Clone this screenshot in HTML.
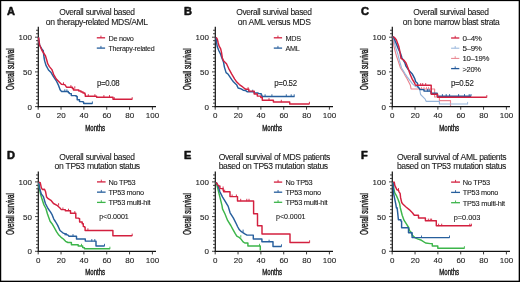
<!DOCTYPE html>
<html><head><meta charset="utf-8"><style>
html,body{margin:0;padding:0;background:#fff;}
svg{display:block;font-family:"Liberation Sans", sans-serif;will-change:transform;}
</style></head><body>
<svg width="520" height="282" viewBox="0 0 520 282">
<rect x="0" y="0" width="520" height="282" fill="#fff"/>
<g transform="translate(0 0)">
<text transform="translate(7.10 14.70)" font-size="11.0" font-weight="bold" fill="#111" stroke="#111" stroke-width="0.55" stroke-linejoin="round">A</text>
<text transform="translate(59.25 15.10) scale(0.8814 1)" font-size="9.6" letter-spacing="-0.45" word-spacing="0.55" fill="#1a1a1a" stroke="#1a1a1a" stroke-width="0.1" stroke-linejoin="round">Overall survival based</text>
<text transform="translate(45.85 24.70) scale(0.8960 1)" font-size="9.6" letter-spacing="-0.45" word-spacing="0.55" fill="#1a1a1a" stroke="#1a1a1a" stroke-width="0.1" stroke-linejoin="round">on therapy-related MDS/AML</text>
<line x1="38.3" y1="26.7" x2="38.3" y2="107.19999999999999" stroke="#111" stroke-width="1.2"/>
<path d="M35.00 106.60H38.3M36.00 103.13H38.3M36.00 99.66H38.3M36.00 96.19H38.3M36.00 92.72H38.3M36.00 89.25H38.3M36.00 85.78H38.3M36.00 82.31H38.3M36.00 78.84H38.3M36.00 75.37H38.3M35.00 71.90H38.3M36.00 68.43H38.3M36.00 64.96H38.3M36.00 61.49H38.3M36.00 58.02H38.3M36.00 54.55H38.3M36.00 51.08H38.3M36.00 47.61H38.3M36.00 44.14H38.3M36.00 40.67H38.3M35.00 37.20H38.3M36.00 33.73H38.3M36.00 30.26H38.3" stroke="#222" stroke-width="0.85" fill="none"/>
<line x1="37.699999999999996" y1="106.6" x2="156.00" y2="106.6" stroke="#111" stroke-width="1.2"/>
<path d="M38.20 106.6V109.70M61.04 106.6V109.70M83.88 106.6V109.70M106.72 106.6V109.70M129.56 106.6V109.70M152.40 106.6V109.70" stroke="#222" stroke-width="0.9" fill="none"/>
<text transform="translate(27.46 109.50)" font-size="8.0" fill="#1a1a1a" stroke="#1a1a1a" stroke-width="0.1" stroke-linejoin="round">0</text>
<text transform="translate(23.02 74.80)" font-size="8.0" fill="#1a1a1a" stroke="#1a1a1a" stroke-width="0.1" stroke-linejoin="round">50</text>
<text transform="translate(18.54 40.10)" font-size="8.0" fill="#1a1a1a" stroke="#1a1a1a" stroke-width="0.1" stroke-linejoin="round">100</text>
<text transform="translate(36.08 118.40)" font-size="8.0" fill="#1a1a1a" stroke="#1a1a1a" stroke-width="0.1" stroke-linejoin="round">0</text>
<text transform="translate(56.70 118.40)" font-size="8.0" fill="#1a1a1a" stroke="#1a1a1a" stroke-width="0.1" stroke-linejoin="round">20</text>
<text transform="translate(79.54 118.40)" font-size="8.0" fill="#1a1a1a" stroke="#1a1a1a" stroke-width="0.1" stroke-linejoin="round">40</text>
<text transform="translate(102.38 118.40)" font-size="8.0" fill="#1a1a1a" stroke="#1a1a1a" stroke-width="0.1" stroke-linejoin="round">60</text>
<text transform="translate(125.22 118.40)" font-size="8.0" fill="#1a1a1a" stroke="#1a1a1a" stroke-width="0.1" stroke-linejoin="round">80</text>
<text transform="translate(145.82 118.40)" font-size="8.0" fill="#1a1a1a" stroke="#1a1a1a" stroke-width="0.1" stroke-linejoin="round">100</text>
<text transform="translate(85.30 130.60) scale(0.6223 1)" font-size="9.7" fill="#1a1a1a" stroke="#1a1a1a" stroke-width="0.45" stroke-linejoin="round">Months</text>
<g transform="translate(13.55 69.2) rotate(-90)"><text transform="translate(-20.80 0.00) scale(0.6086 1)" font-size="10.0" fill="#1a1a1a" stroke="#1a1a1a" stroke-width="0.45" stroke-linejoin="round">Overall survival</text></g>
<path d="M38.50 37.30L39.60 45.00L42.30 49.80L43.20 50.60L44.10 58.00L44.70 61.10L46.00 65.40L48.50 70.00L51.10 72.60L53.60 76.90L56.30 80.80L58.40 85.10L60.10 89.70L61.40 91.40H68.30V92.60H69.30V93.60H71.30V95.60H76.20V96.40H77.20V99.80H79.50V101.60H83.20V102.30H83.70V103.50H92.40" stroke="#275f9d" stroke-width="1.45" fill="none" stroke-linejoin="round"/><path d="M64.80 91.70v-2.4M66.90 91.70v-2.4M92.40 103.80v-2.4" stroke="#275f9d" stroke-width="0.9" fill="none"/><path d="M38.50 37.30L39.60 45.00L42.00 50.50L45.50 56.00L46.80 60.30L47.70 63.70L49.40 66.60L51.90 69.60L53.60 74.30L56.30 79.10L58.00 80.80L61.40 84.20L64.80 84.60L66.50 87.20H72.40V88.40H73.50V90.00H78.80V91.00H81.00V92.00H83.00V93.00H84.80V94.00H85.30V96.30H96.60V97.20H113.00V99.30H132.20" stroke="#d3203f" stroke-width="1.45" fill="none" stroke-linejoin="round"/><path d="M63.50 84.70v-2.4M70.90 87.50v-2.4M74.80 88.70v-2.4M88.30 96.60v-2.4M94.90 96.60v-2.4M103.90 97.50v-2.4M109.50 97.50v-2.4M114.30 99.60v-2.4M132.20 99.60v-2.4" stroke="#d3203f" stroke-width="0.9" fill="none"/>
<path d="M96.8 37.80H105.1" stroke="#d3203f" stroke-width="1.3" fill="none"/><path d="M100.95 37.80v-2.2" stroke="#d3203f" stroke-width="0.9" fill="none"/>
<text transform="translate(108.40 40.70) scale(0.9107 1)" font-size="8.0" letter-spacing="-0.3" fill="#1a1a1a" stroke="#1a1a1a" stroke-width="0.1" stroke-linejoin="round">De novo</text>
<path d="M96.8 48.10H105.1" stroke="#275f9d" stroke-width="1.3" fill="none"/><path d="M100.95 48.10v-2.2" stroke="#275f9d" stroke-width="0.9" fill="none"/>
<text transform="translate(108.40 51.00) scale(0.8875 1)" font-size="8.0" letter-spacing="-0.3" fill="#1a1a1a" stroke="#1a1a1a" stroke-width="0.1" stroke-linejoin="round">Therapy-related</text>
<text transform="translate(96.90 85.70) scale(0.9201 1)" font-size="8.6" letter-spacing="-0.35" fill="#1a1a1a" stroke="#1a1a1a" stroke-width="0.1" stroke-linejoin="round">p=0.08</text>
</g>
<g transform="translate(177 0)">
<text transform="translate(7.10 14.70)" font-size="11.0" font-weight="bold" fill="#111" stroke="#111" stroke-width="0.55" stroke-linejoin="round">B</text>
<text transform="translate(59.25 15.10) scale(0.8814 1)" font-size="9.6" letter-spacing="-0.45" word-spacing="0.55" fill="#1a1a1a" stroke="#1a1a1a" stroke-width="0.1" stroke-linejoin="round">Overall survival based</text>
<text transform="translate(60.80 24.70) scale(0.8974 1)" font-size="9.6" letter-spacing="-0.45" word-spacing="0.55" fill="#1a1a1a" stroke="#1a1a1a" stroke-width="0.1" stroke-linejoin="round">on AML versus MDS</text>
<line x1="38.3" y1="26.7" x2="38.3" y2="107.19999999999999" stroke="#111" stroke-width="1.2"/>
<path d="M35.00 106.60H38.3M36.00 103.13H38.3M36.00 99.66H38.3M36.00 96.19H38.3M36.00 92.72H38.3M36.00 89.25H38.3M36.00 85.78H38.3M36.00 82.31H38.3M36.00 78.84H38.3M36.00 75.37H38.3M35.00 71.90H38.3M36.00 68.43H38.3M36.00 64.96H38.3M36.00 61.49H38.3M36.00 58.02H38.3M36.00 54.55H38.3M36.00 51.08H38.3M36.00 47.61H38.3M36.00 44.14H38.3M36.00 40.67H38.3M35.00 37.20H38.3M36.00 33.73H38.3M36.00 30.26H38.3" stroke="#222" stroke-width="0.85" fill="none"/>
<line x1="37.699999999999996" y1="106.6" x2="156.00" y2="106.6" stroke="#111" stroke-width="1.2"/>
<path d="M38.20 106.6V109.70M61.04 106.6V109.70M83.88 106.6V109.70M106.72 106.6V109.70M129.56 106.6V109.70M152.40 106.6V109.70" stroke="#222" stroke-width="0.9" fill="none"/>
<text transform="translate(27.46 109.50)" font-size="8.0" fill="#1a1a1a" stroke="#1a1a1a" stroke-width="0.1" stroke-linejoin="round">0</text>
<text transform="translate(23.02 74.80)" font-size="8.0" fill="#1a1a1a" stroke="#1a1a1a" stroke-width="0.1" stroke-linejoin="round">50</text>
<text transform="translate(18.54 40.10)" font-size="8.0" fill="#1a1a1a" stroke="#1a1a1a" stroke-width="0.1" stroke-linejoin="round">100</text>
<text transform="translate(36.08 118.40)" font-size="8.0" fill="#1a1a1a" stroke="#1a1a1a" stroke-width="0.1" stroke-linejoin="round">0</text>
<text transform="translate(56.70 118.40)" font-size="8.0" fill="#1a1a1a" stroke="#1a1a1a" stroke-width="0.1" stroke-linejoin="round">20</text>
<text transform="translate(79.54 118.40)" font-size="8.0" fill="#1a1a1a" stroke="#1a1a1a" stroke-width="0.1" stroke-linejoin="round">40</text>
<text transform="translate(102.38 118.40)" font-size="8.0" fill="#1a1a1a" stroke="#1a1a1a" stroke-width="0.1" stroke-linejoin="round">60</text>
<text transform="translate(125.22 118.40)" font-size="8.0" fill="#1a1a1a" stroke="#1a1a1a" stroke-width="0.1" stroke-linejoin="round">80</text>
<text transform="translate(145.82 118.40)" font-size="8.0" fill="#1a1a1a" stroke="#1a1a1a" stroke-width="0.1" stroke-linejoin="round">100</text>
<text transform="translate(85.30 130.60) scale(0.6223 1)" font-size="9.7" fill="#1a1a1a" stroke="#1a1a1a" stroke-width="0.45" stroke-linejoin="round">Months</text>
<g transform="translate(13.55 69.2) rotate(-90)"><text transform="translate(-20.80 0.00) scale(0.6086 1)" font-size="10.0" fill="#1a1a1a" stroke="#1a1a1a" stroke-width="0.45" stroke-linejoin="round">Overall survival</text></g>
<path d="M39.20 37.40L39.40 41.70L40.30 46.80L42.00 51.00L43.70 54.40L44.90 58.00L46.50 62.00L47.40 67.10L49.10 72.60L51.20 74.30L54.60 79.40L56.40 81.70L59.80 85.10L61.10 88.00L64.10 88.90L66.20 90.20L68.70 90.60L70.40 91.80H77.20V92.90H81.10V93.60H84.20V95.00H84.90V96.40H117.50" stroke="#275f9d" stroke-width="1.45" fill="none" stroke-linejoin="round"/><path d="M75.70 92.10v-2.4M88.10 96.70v-2.4M94.90 96.70v-2.4M109.30 96.70v-2.4M114.20 96.70v-2.4M117.20 96.70v-2.4" stroke="#275f9d" stroke-width="0.9" fill="none"/><path d="M39.20 37.40L40.30 39.10L41.10 42.50L42.00 45.90L43.70 48.90L44.50 52.30L45.30 57.70L46.50 60.70L49.50 63.70L51.60 68.30L54.60 73.90L57.70 79.10L59.80 82.10L62.40 84.60L64.90 86.30L67.50 88.50L69.00 89.30H71.80V91.10H77.20V93.90H80.30V96.10H83.80V97.50H85.30V100.20H96.40V101.90H112.70V103.90H132.40" stroke="#d3203f" stroke-width="1.45" fill="none" stroke-linejoin="round"/><path d="M71.10 89.60v-2.4M92.00 100.50v-2.4M104.30 102.20v-2.4M132.40 104.20v-2.4" stroke="#d3203f" stroke-width="0.9" fill="none"/>
<path d="M96.8 37.80H105.1" stroke="#d3203f" stroke-width="1.3" fill="none"/><path d="M100.95 37.80v-2.2" stroke="#d3203f" stroke-width="0.9" fill="none"/>
<text transform="translate(108.40 40.70) scale(0.9091 1)" font-size="8.0" letter-spacing="-0.3" fill="#1a1a1a" stroke="#1a1a1a" stroke-width="0.1" stroke-linejoin="round">MDS</text>
<path d="M96.8 48.10H105.1" stroke="#275f9d" stroke-width="1.3" fill="none"/><path d="M100.95 48.10v-2.2" stroke="#275f9d" stroke-width="0.9" fill="none"/>
<text transform="translate(108.40 51.00) scale(0.9028 1)" font-size="8.0" letter-spacing="-0.3" fill="#1a1a1a" stroke="#1a1a1a" stroke-width="0.1" stroke-linejoin="round">AML</text>
<text transform="translate(97.30 85.70) scale(0.9201 1)" font-size="8.6" letter-spacing="-0.35" fill="#1a1a1a" stroke="#1a1a1a" stroke-width="0.1" stroke-linejoin="round">p=0.52</text>
</g>
<g transform="translate(354 0)">
<text transform="translate(7.10 14.70)" font-size="11.0" font-weight="bold" fill="#111" stroke="#111" stroke-width="0.55" stroke-linejoin="round">C</text>
<text transform="translate(59.25 15.10) scale(0.8814 1)" font-size="9.6" letter-spacing="-0.45" word-spacing="0.55" fill="#1a1a1a" stroke="#1a1a1a" stroke-width="0.1" stroke-linejoin="round">Overall survival based</text>
<text transform="translate(48.85 24.70) scale(0.8864 1)" font-size="9.6" letter-spacing="-0.45" word-spacing="0.55" fill="#1a1a1a" stroke="#1a1a1a" stroke-width="0.1" stroke-linejoin="round">on bone marrow blast strata</text>
<line x1="38.3" y1="26.7" x2="38.3" y2="107.19999999999999" stroke="#111" stroke-width="1.2"/>
<path d="M35.00 106.60H38.3M36.00 103.13H38.3M36.00 99.66H38.3M36.00 96.19H38.3M36.00 92.72H38.3M36.00 89.25H38.3M36.00 85.78H38.3M36.00 82.31H38.3M36.00 78.84H38.3M36.00 75.37H38.3M35.00 71.90H38.3M36.00 68.43H38.3M36.00 64.96H38.3M36.00 61.49H38.3M36.00 58.02H38.3M36.00 54.55H38.3M36.00 51.08H38.3M36.00 47.61H38.3M36.00 44.14H38.3M36.00 40.67H38.3M35.00 37.20H38.3M36.00 33.73H38.3M36.00 30.26H38.3" stroke="#222" stroke-width="0.85" fill="none"/>
<line x1="37.699999999999996" y1="106.6" x2="156.00" y2="106.6" stroke="#111" stroke-width="1.2"/>
<path d="M38.20 106.6V109.70M61.04 106.6V109.70M83.88 106.6V109.70M106.72 106.6V109.70M129.56 106.6V109.70M152.40 106.6V109.70" stroke="#222" stroke-width="0.9" fill="none"/>
<text transform="translate(27.46 109.50)" font-size="8.0" fill="#1a1a1a" stroke="#1a1a1a" stroke-width="0.1" stroke-linejoin="round">0</text>
<text transform="translate(23.02 74.80)" font-size="8.0" fill="#1a1a1a" stroke="#1a1a1a" stroke-width="0.1" stroke-linejoin="round">50</text>
<text transform="translate(18.54 40.10)" font-size="8.0" fill="#1a1a1a" stroke="#1a1a1a" stroke-width="0.1" stroke-linejoin="round">100</text>
<text transform="translate(36.08 118.40)" font-size="8.0" fill="#1a1a1a" stroke="#1a1a1a" stroke-width="0.1" stroke-linejoin="round">0</text>
<text transform="translate(56.70 118.40)" font-size="8.0" fill="#1a1a1a" stroke="#1a1a1a" stroke-width="0.1" stroke-linejoin="round">20</text>
<text transform="translate(79.54 118.40)" font-size="8.0" fill="#1a1a1a" stroke="#1a1a1a" stroke-width="0.1" stroke-linejoin="round">40</text>
<text transform="translate(102.38 118.40)" font-size="8.0" fill="#1a1a1a" stroke="#1a1a1a" stroke-width="0.1" stroke-linejoin="round">60</text>
<text transform="translate(125.22 118.40)" font-size="8.0" fill="#1a1a1a" stroke="#1a1a1a" stroke-width="0.1" stroke-linejoin="round">80</text>
<text transform="translate(145.82 118.40)" font-size="8.0" fill="#1a1a1a" stroke="#1a1a1a" stroke-width="0.1" stroke-linejoin="round">100</text>
<text transform="translate(85.30 130.60) scale(0.6223 1)" font-size="9.7" fill="#1a1a1a" stroke="#1a1a1a" stroke-width="0.45" stroke-linejoin="round">Months</text>
<g transform="translate(13.55 69.2) rotate(-90)"><text transform="translate(-20.80 0.00) scale(0.6086 1)" font-size="10.0" fill="#1a1a1a" stroke="#1a1a1a" stroke-width="0.45" stroke-linejoin="round">Overall survival</text></g>
<path d="M39.20 36.50L39.80 45.90L41.10 51.00L42.40 55.70L44.40 61.60L46.50 68.00L49.70 72.70L51.40 76.00L52.80 78.30L55.00 82.50L56.40 85.30L57.10 89.00H80.60V97.00H85.40V100.60H96.50V106.00" stroke="#e9848f" stroke-width="1.15" fill="none" stroke-linejoin="round"/><path d="M67.50 89.30v-2.4M70.00 89.30v-2.4M72.50 89.30v-2.4M74.50 89.30v-2.4" stroke="#e9848f" stroke-width="0.9" fill="none"/><path d="M39.20 36.50L40.30 42.50L42.00 48.50L43.70 53.60L45.40 60.50L47.60 68.00L51.00 73.60L53.20 76.80L56.40 81.10L58.50 83.90L61.30 86.40L64.20 87.10L65.60 88.90L66.60 94.50L68.70 96.60L71.20 99.10L72.10 101.30H85.40V104.00H113.60" stroke="#97b6db" stroke-width="1.15" fill="none" stroke-linejoin="round"/><path d="M113.60 104.30v-2.4" stroke="#97b6db" stroke-width="0.9" fill="none"/><path d="M39.20 36.50L41.10 40.80L42.80 45.10L44.50 49.30L46.60 53.60L47.90 57.80L50.80 62.60L51.80 65.80L55.00 70.60L58.50 74.30L60.60 78.30L61.70 81.80L63.50 83.20L63.80 86.80L65.20 88.20L66.00 89.60H70.00V91.10H77.00V93.20H83.20V96.20H117.00" stroke="#21589a" stroke-width="1.45" fill="none" stroke-linejoin="round"/><path d="M73.40 91.40v-2.4M75.10 91.40v-2.4M88.40 96.50v-2.4M92.20 96.50v-2.4M95.60 96.50v-2.4M104.60 96.50v-2.4M110.50 96.50v-2.4M115.20 96.50v-2.4M117.00 96.50v-2.4" stroke="#21589a" stroke-width="0.9" fill="none"/><path d="M39.20 36.50L40.70 37.80L42.40 40.00L43.70 43.40L44.90 46.80L45.80 51.00L46.40 55.00L47.00 58.40L49.70 60.00L51.80 62.60L54.00 68.00L56.00 74.00L58.50 79.70L60.00 82.00L61.30 84.60L61.80 85.20H77.20V94.30H83.60V97.20H132.80" stroke="#d3203f" stroke-width="1.45" fill="none" stroke-linejoin="round"/><path d="M66.70 85.50v-2.4M68.70 85.50v-2.4M71.70 85.50v-2.4M132.80 97.50v-2.4" stroke="#d3203f" stroke-width="0.9" fill="none"/>
<path d="M97.1 38.00H105.3" stroke="#d3203f" stroke-width="1.3" fill="none"/><path d="M101.20 38.00v-2.2" stroke="#d3203f" stroke-width="0.9" fill="none"/>
<text transform="translate(108.40 40.90) scale(1.0010 1)" font-size="8.0" letter-spacing="-0.3" fill="#1a1a1a" stroke="#1a1a1a" stroke-width="0.1" stroke-linejoin="round">0–4%</text>
<path d="M97.1 48.20H105.3" stroke="#97b6db" stroke-width="1.05" fill="none"/><path d="M101.20 48.20v-2.2" stroke="#97b6db" stroke-width="0.9" fill="none"/>
<text transform="translate(108.40 51.10) scale(1.0010 1)" font-size="8.0" letter-spacing="-0.3" fill="#1a1a1a" stroke="#1a1a1a" stroke-width="0.1" stroke-linejoin="round">5–9%</text>
<path d="M97.1 58.40H105.3" stroke="#e9848f" stroke-width="1.05" fill="none"/><path d="M101.20 58.40v-2.2" stroke="#e9848f" stroke-width="0.9" fill="none"/>
<text transform="translate(108.40 61.30) scale(0.9763 1)" font-size="8.0" letter-spacing="-0.3" fill="#1a1a1a" stroke="#1a1a1a" stroke-width="0.1" stroke-linejoin="round">10–19%</text>
<path d="M97.1 68.60H105.3" stroke="#21589a" stroke-width="1.3" fill="none"/><path d="M101.20 68.60v-2.2" stroke="#21589a" stroke-width="0.9" fill="none"/>
<text transform="translate(108.40 71.50) scale(0.9403 1)" font-size="8.0" letter-spacing="-0.3" fill="#1a1a1a" stroke="#1a1a1a" stroke-width="0.1" stroke-linejoin="round">&gt;20%</text>
<text transform="translate(97.00 85.70) scale(0.9201 1)" font-size="8.6" letter-spacing="-0.35" fill="#1a1a1a" stroke="#1a1a1a" stroke-width="0.1" stroke-linejoin="round">p=0.52</text>
</g>
<g transform="translate(0 144.7)">
<text transform="translate(7.10 14.70)" font-size="11.0" font-weight="bold" fill="#111" stroke="#111" stroke-width="0.55" stroke-linejoin="round">D</text>
<text transform="translate(59.25 15.10) scale(0.8814 1)" font-size="9.6" letter-spacing="-0.45" word-spacing="0.55" fill="#1a1a1a" stroke="#1a1a1a" stroke-width="0.1" stroke-linejoin="round">Overall survival based</text>
<text transform="translate(54.50 24.70) scale(0.8952 1)" font-size="9.6" letter-spacing="-0.45" word-spacing="0.55" fill="#1a1a1a" stroke="#1a1a1a" stroke-width="0.1" stroke-linejoin="round">on TP53 mutation status</text>
<line x1="38.3" y1="26.7" x2="38.3" y2="107.19999999999999" stroke="#111" stroke-width="1.2"/>
<path d="M35.00 106.60H38.3M36.00 103.13H38.3M36.00 99.66H38.3M36.00 96.19H38.3M36.00 92.72H38.3M36.00 89.25H38.3M36.00 85.78H38.3M36.00 82.31H38.3M36.00 78.84H38.3M36.00 75.37H38.3M35.00 71.90H38.3M36.00 68.43H38.3M36.00 64.96H38.3M36.00 61.49H38.3M36.00 58.02H38.3M36.00 54.55H38.3M36.00 51.08H38.3M36.00 47.61H38.3M36.00 44.14H38.3M36.00 40.67H38.3M35.00 37.20H38.3M36.00 33.73H38.3M36.00 30.26H38.3" stroke="#222" stroke-width="0.85" fill="none"/>
<line x1="37.699999999999996" y1="106.6" x2="156.00" y2="106.6" stroke="#111" stroke-width="1.2"/>
<path d="M38.20 106.6V109.70M61.04 106.6V109.70M83.88 106.6V109.70M106.72 106.6V109.70M129.56 106.6V109.70M152.40 106.6V109.70" stroke="#222" stroke-width="0.9" fill="none"/>
<text transform="translate(27.46 109.50)" font-size="8.0" fill="#1a1a1a" stroke="#1a1a1a" stroke-width="0.1" stroke-linejoin="round">0</text>
<text transform="translate(23.02 74.80)" font-size="8.0" fill="#1a1a1a" stroke="#1a1a1a" stroke-width="0.1" stroke-linejoin="round">50</text>
<text transform="translate(18.54 40.10)" font-size="8.0" fill="#1a1a1a" stroke="#1a1a1a" stroke-width="0.1" stroke-linejoin="round">100</text>
<text transform="translate(36.08 118.40)" font-size="8.0" fill="#1a1a1a" stroke="#1a1a1a" stroke-width="0.1" stroke-linejoin="round">0</text>
<text transform="translate(56.70 118.40)" font-size="8.0" fill="#1a1a1a" stroke="#1a1a1a" stroke-width="0.1" stroke-linejoin="round">20</text>
<text transform="translate(79.54 118.40)" font-size="8.0" fill="#1a1a1a" stroke="#1a1a1a" stroke-width="0.1" stroke-linejoin="round">40</text>
<text transform="translate(102.38 118.40)" font-size="8.0" fill="#1a1a1a" stroke="#1a1a1a" stroke-width="0.1" stroke-linejoin="round">60</text>
<text transform="translate(125.22 118.40)" font-size="8.0" fill="#1a1a1a" stroke="#1a1a1a" stroke-width="0.1" stroke-linejoin="round">80</text>
<text transform="translate(145.82 118.40)" font-size="8.0" fill="#1a1a1a" stroke="#1a1a1a" stroke-width="0.1" stroke-linejoin="round">100</text>
<text transform="translate(85.30 130.60) scale(0.6223 1)" font-size="9.7" fill="#1a1a1a" stroke="#1a1a1a" stroke-width="0.45" stroke-linejoin="round">Months</text>
<g transform="translate(13.55 69.2) rotate(-90)"><text transform="translate(-20.80 0.00) scale(0.6086 1)" font-size="10.0" fill="#1a1a1a" stroke="#1a1a1a" stroke-width="0.45" stroke-linejoin="round">Overall survival</text></g>
<path d="M38.70 37.60L39.20 42.90L40.80 50.30L42.40 55.60L43.70 59.60L45.90 63.80L47.40 69.10L50.10 76.60L52.00 79.00L54.30 83.00L56.50 87.00L58.80 90.40L61.10 92.60L63.40 94.30L65.60 96.60L67.90 97.80H71.40V100.00H78.20V101.20H82.70V102.90H84.40V104.10H109.90" stroke="#3cb54a" stroke-width="1.45" fill="none" stroke-linejoin="round"/><path d="M81.50 101.50v-2.4M109.90 104.40v-2.4" stroke="#3cb54a" stroke-width="0.9" fill="none"/><path d="M38.70 37.60L39.70 43.90L41.30 49.30L43.40 51.90L45.40 58.80L48.00 63.80L50.60 67.50L52.20 70.20L53.80 74.40L55.40 76.80L57.70 80.70L60.00 85.80L62.80 88.10L67.90 90.40L69.00 91.50H76.50V94.30H85.30V96.40H96.00V101.20H104.50" stroke="#275f9d" stroke-width="1.45" fill="none" stroke-linejoin="round"/><path d="M65.10 90.70v-2.4M66.20 90.70v-2.4M73.00 91.80v-2.4M91.80 96.70v-2.4M94.80 96.70v-2.4M104.50 101.50v-2.4" stroke="#275f9d" stroke-width="0.9" fill="none"/><path d="M38.70 37.60L40.30 38.10L41.30 42.90L42.40 44.80L44.50 44.60L45.60 47.10L46.60 52.40L48.20 54.00L50.90 55.60L53.50 58.80L57.00 60.60L60.20 63.60L61.30 64.90H65.30V66.10H70.50V68.50H75.80V73.40H78.80V73.90H79.60V77.30H82.20V79.10H83.30V81.90H84.70V82.50H85.10V85.70H112.90V91.00H132.20" stroke="#d3203f" stroke-width="1.45" fill="none" stroke-linejoin="round"/><path d="M58.60 60.90v-2.4M62.90 65.20v-2.4M68.50 66.40v-2.4M74.80 68.80v-2.4M87.90 86.00v-2.4M132.20 91.30v-2.4" stroke="#d3203f" stroke-width="0.9" fill="none"/>
<path d="M97.0 37.20H105.6" stroke="#d3203f" stroke-width="1.3" fill="none"/><path d="M101.30 37.20v-2.2" stroke="#d3203f" stroke-width="0.9" fill="none"/>
<text transform="translate(108.40 40.10) scale(0.9244 1)" font-size="8.0" letter-spacing="-0.3" fill="#1a1a1a" stroke="#1a1a1a" stroke-width="0.1" stroke-linejoin="round">No TP53</text>
<path d="M97.0 47.45H105.6" stroke="#275f9d" stroke-width="1.3" fill="none"/><path d="M101.30 47.45v-2.2" stroke="#275f9d" stroke-width="0.9" fill="none"/>
<text transform="translate(108.40 50.35) scale(0.9163 1)" font-size="8.0" letter-spacing="-0.3" fill="#1a1a1a" stroke="#1a1a1a" stroke-width="0.1" stroke-linejoin="round">TP53 mono</text>
<path d="M97.0 57.70H105.6" stroke="#3cb54a" stroke-width="1.3" fill="none"/><path d="M101.30 57.70v-2.2" stroke="#3cb54a" stroke-width="0.9" fill="none"/>
<text transform="translate(108.40 60.60) scale(0.9305 1)" font-size="8.0" letter-spacing="-0.3" fill="#1a1a1a" stroke="#1a1a1a" stroke-width="0.1" stroke-linejoin="round">TP53 multi-hit</text>
<text transform="translate(99.20 74.60) scale(0.9253 1)" font-size="7.7" letter-spacing="-0.05" fill="#1a1a1a" stroke="#1a1a1a" stroke-width="0.1" stroke-linejoin="round">p&lt;0.0001</text>
</g>
<g transform="translate(177 144.7)">
<text transform="translate(7.10 14.70)" font-size="11.0" font-weight="bold" fill="#111" stroke="#111" stroke-width="0.55" stroke-linejoin="round">E</text>
<text transform="translate(41.70 15.10) scale(0.8934 1)" font-size="9.6" letter-spacing="-0.45" word-spacing="0.55" fill="#1a1a1a" stroke="#1a1a1a" stroke-width="0.1" stroke-linejoin="round">Overall survival of MDS patients</text>
<text transform="translate(41.70 24.70) scale(0.8936 1)" font-size="9.6" letter-spacing="-0.45" word-spacing="0.55" fill="#1a1a1a" stroke="#1a1a1a" stroke-width="0.1" stroke-linejoin="round">based on TP53 mutation status</text>
<line x1="38.3" y1="26.7" x2="38.3" y2="107.19999999999999" stroke="#111" stroke-width="1.2"/>
<path d="M35.00 106.60H38.3M36.00 103.13H38.3M36.00 99.66H38.3M36.00 96.19H38.3M36.00 92.72H38.3M36.00 89.25H38.3M36.00 85.78H38.3M36.00 82.31H38.3M36.00 78.84H38.3M36.00 75.37H38.3M35.00 71.90H38.3M36.00 68.43H38.3M36.00 64.96H38.3M36.00 61.49H38.3M36.00 58.02H38.3M36.00 54.55H38.3M36.00 51.08H38.3M36.00 47.61H38.3M36.00 44.14H38.3M36.00 40.67H38.3M35.00 37.20H38.3M36.00 33.73H38.3M36.00 30.26H38.3" stroke="#222" stroke-width="0.85" fill="none"/>
<line x1="37.699999999999996" y1="106.6" x2="156.00" y2="106.6" stroke="#111" stroke-width="1.2"/>
<path d="M38.20 106.6V109.70M61.04 106.6V109.70M83.88 106.6V109.70M106.72 106.6V109.70M129.56 106.6V109.70M152.40 106.6V109.70" stroke="#222" stroke-width="0.9" fill="none"/>
<text transform="translate(27.46 109.50)" font-size="8.0" fill="#1a1a1a" stroke="#1a1a1a" stroke-width="0.1" stroke-linejoin="round">0</text>
<text transform="translate(23.02 74.80)" font-size="8.0" fill="#1a1a1a" stroke="#1a1a1a" stroke-width="0.1" stroke-linejoin="round">50</text>
<text transform="translate(18.54 40.10)" font-size="8.0" fill="#1a1a1a" stroke="#1a1a1a" stroke-width="0.1" stroke-linejoin="round">100</text>
<text transform="translate(36.08 118.40)" font-size="8.0" fill="#1a1a1a" stroke="#1a1a1a" stroke-width="0.1" stroke-linejoin="round">0</text>
<text transform="translate(56.70 118.40)" font-size="8.0" fill="#1a1a1a" stroke="#1a1a1a" stroke-width="0.1" stroke-linejoin="round">20</text>
<text transform="translate(79.54 118.40)" font-size="8.0" fill="#1a1a1a" stroke="#1a1a1a" stroke-width="0.1" stroke-linejoin="round">40</text>
<text transform="translate(102.38 118.40)" font-size="8.0" fill="#1a1a1a" stroke="#1a1a1a" stroke-width="0.1" stroke-linejoin="round">60</text>
<text transform="translate(125.22 118.40)" font-size="8.0" fill="#1a1a1a" stroke="#1a1a1a" stroke-width="0.1" stroke-linejoin="round">80</text>
<text transform="translate(145.82 118.40)" font-size="8.0" fill="#1a1a1a" stroke="#1a1a1a" stroke-width="0.1" stroke-linejoin="round">100</text>
<text transform="translate(85.30 130.60) scale(0.6223 1)" font-size="9.7" fill="#1a1a1a" stroke="#1a1a1a" stroke-width="0.45" stroke-linejoin="round">Months</text>
<g transform="translate(13.55 69.2) rotate(-90)"><text transform="translate(-20.80 0.00) scale(0.6086 1)" font-size="10.0" fill="#1a1a1a" stroke="#1a1a1a" stroke-width="0.45" stroke-linejoin="round">Overall survival</text></g>
<path d="M39.20 37.60L40.80 43.90L42.90 52.40L45.00 61.00L45.50 64.20L48.00 69.30L50.60 75.70L53.80 80.80L55.30 83.60L58.10 88.70L59.80 91.50L62.10 92.60L64.40 94.90L66.10 97.20L67.80 98.30H70.90V101.20H83.30V105.90" stroke="#3cb54a" stroke-width="1.45" fill="none" stroke-linejoin="round"/><path d="M63.80 92.90v-2.4M82.50 101.50v-2.4" stroke="#3cb54a" stroke-width="0.9" fill="none"/><path d="M39.20 37.60L41.30 41.80L42.90 47.10L45.60 52.40L48.20 56.70L51.20 61.70L53.10 68.10L56.30 73.20L59.50 79.60L60.50 81.80L62.40 85.10L64.40 87.00L67.80 89.20L70.00 90.40H76.30V94.30H84.90V97.10H96.00V101.70H104.50" stroke="#275f9d" stroke-width="1.45" fill="none" stroke-linejoin="round"/><path d="M66.10 87.30v-2.4M92.10 97.40v-2.4M104.50 102.00v-2.4" stroke="#275f9d" stroke-width="0.9" fill="none"/><path d="M39.20 37.60L40.80 40.20L41.90 41.30H42.90V43.90H46.10V45.50H46.60V47.10H53.00V51.90H60.50V56.20H76.60V69.00H80.50V81.10H85.00V89.30H113.00V97.70H132.60" stroke="#d3203f" stroke-width="1.45" fill="none" stroke-linejoin="round"/><path d="M46.10 44.20v-2.4M47.70 47.40v-2.4M55.10 52.20v-2.4M59.40 52.20v-2.4M63.70 56.50v-2.4M69.80 56.50v-2.4M72.00 56.50v-2.4M132.60 98.00v-2.4" stroke="#d3203f" stroke-width="0.9" fill="none"/>
<path d="M96.9 37.40H105.2" stroke="#d3203f" stroke-width="1.3" fill="none"/><path d="M101.05 37.40v-2.2" stroke="#d3203f" stroke-width="0.9" fill="none"/>
<text transform="translate(108.40 40.30) scale(0.9244 1)" font-size="8.0" letter-spacing="-0.3" fill="#1a1a1a" stroke="#1a1a1a" stroke-width="0.1" stroke-linejoin="round">No TP53</text>
<path d="M96.9 47.50H105.2" stroke="#275f9d" stroke-width="1.3" fill="none"/><path d="M101.05 47.50v-2.2" stroke="#275f9d" stroke-width="0.9" fill="none"/>
<text transform="translate(108.40 50.40) scale(0.9163 1)" font-size="8.0" letter-spacing="-0.3" fill="#1a1a1a" stroke="#1a1a1a" stroke-width="0.1" stroke-linejoin="round">TP53 mono</text>
<path d="M96.9 57.60H105.2" stroke="#3cb54a" stroke-width="1.3" fill="none"/><path d="M101.05 57.60v-2.2" stroke="#3cb54a" stroke-width="0.9" fill="none"/>
<text transform="translate(108.40 60.50) scale(0.9305 1)" font-size="8.0" letter-spacing="-0.3" fill="#1a1a1a" stroke="#1a1a1a" stroke-width="0.1" stroke-linejoin="round">TP53 multi-hit</text>
<text transform="translate(99.00 74.20) scale(0.9253 1)" font-size="7.7" letter-spacing="-0.05" fill="#1a1a1a" stroke="#1a1a1a" stroke-width="0.1" stroke-linejoin="round">p&lt;0.0001</text>
</g>
<g transform="translate(354 144.7)">
<text transform="translate(7.10 14.70)" font-size="11.0" font-weight="bold" fill="#111" stroke="#111" stroke-width="0.55" stroke-linejoin="round">F</text>
<text transform="translate(42.90 15.10) scale(0.8973 1)" font-size="9.6" letter-spacing="-0.45" word-spacing="0.55" fill="#1a1a1a" stroke="#1a1a1a" stroke-width="0.1" stroke-linejoin="round">Overall survival of AML patients</text>
<text transform="translate(42.90 24.70) scale(0.8944 1)" font-size="9.6" letter-spacing="-0.45" word-spacing="0.55" fill="#1a1a1a" stroke="#1a1a1a" stroke-width="0.1" stroke-linejoin="round">based on TP53 mutation status</text>
<line x1="38.3" y1="26.7" x2="38.3" y2="107.19999999999999" stroke="#111" stroke-width="1.2"/>
<path d="M35.00 106.60H38.3M36.00 103.13H38.3M36.00 99.66H38.3M36.00 96.19H38.3M36.00 92.72H38.3M36.00 89.25H38.3M36.00 85.78H38.3M36.00 82.31H38.3M36.00 78.84H38.3M36.00 75.37H38.3M35.00 71.90H38.3M36.00 68.43H38.3M36.00 64.96H38.3M36.00 61.49H38.3M36.00 58.02H38.3M36.00 54.55H38.3M36.00 51.08H38.3M36.00 47.61H38.3M36.00 44.14H38.3M36.00 40.67H38.3M35.00 37.20H38.3M36.00 33.73H38.3M36.00 30.26H38.3" stroke="#222" stroke-width="0.85" fill="none"/>
<line x1="37.699999999999996" y1="106.6" x2="156.00" y2="106.6" stroke="#111" stroke-width="1.2"/>
<path d="M38.20 106.6V109.70M61.04 106.6V109.70M83.88 106.6V109.70M106.72 106.6V109.70M129.56 106.6V109.70M152.40 106.6V109.70" stroke="#222" stroke-width="0.9" fill="none"/>
<text transform="translate(27.46 109.50)" font-size="8.0" fill="#1a1a1a" stroke="#1a1a1a" stroke-width="0.1" stroke-linejoin="round">0</text>
<text transform="translate(23.02 74.80)" font-size="8.0" fill="#1a1a1a" stroke="#1a1a1a" stroke-width="0.1" stroke-linejoin="round">50</text>
<text transform="translate(18.54 40.10)" font-size="8.0" fill="#1a1a1a" stroke="#1a1a1a" stroke-width="0.1" stroke-linejoin="round">100</text>
<text transform="translate(36.08 118.40)" font-size="8.0" fill="#1a1a1a" stroke="#1a1a1a" stroke-width="0.1" stroke-linejoin="round">0</text>
<text transform="translate(56.70 118.40)" font-size="8.0" fill="#1a1a1a" stroke="#1a1a1a" stroke-width="0.1" stroke-linejoin="round">20</text>
<text transform="translate(79.54 118.40)" font-size="8.0" fill="#1a1a1a" stroke="#1a1a1a" stroke-width="0.1" stroke-linejoin="round">40</text>
<text transform="translate(102.38 118.40)" font-size="8.0" fill="#1a1a1a" stroke="#1a1a1a" stroke-width="0.1" stroke-linejoin="round">60</text>
<text transform="translate(125.22 118.40)" font-size="8.0" fill="#1a1a1a" stroke="#1a1a1a" stroke-width="0.1" stroke-linejoin="round">80</text>
<text transform="translate(145.82 118.40)" font-size="8.0" fill="#1a1a1a" stroke="#1a1a1a" stroke-width="0.1" stroke-linejoin="round">100</text>
<text transform="translate(85.30 130.60) scale(0.6223 1)" font-size="9.7" fill="#1a1a1a" stroke="#1a1a1a" stroke-width="0.45" stroke-linejoin="round">Months</text>
<g transform="translate(13.55 69.2) rotate(-90)"><text transform="translate(-20.80 0.00) scale(0.6086 1)" font-size="10.0" fill="#1a1a1a" stroke="#1a1a1a" stroke-width="0.45" stroke-linejoin="round">Overall survival</text></g>
<path d="M39.20 37.30L39.70 43.90L40.80 48.20L42.40 50.90L44.00 54.60L45.60 58.80L46.30 63.00L48.20 70.60L50.10 75.70L52.70 79.70L54.60 82.80L55.60 86.10L57.20 87.60L58.10 90.20L60.80 92.90L63.50 94.20L67.50 95.60L71.60 98.30L76.30 98.90H78.30V101.20H83.80V103.60H110.40" stroke="#3cb54a" stroke-width="1.45" fill="none" stroke-linejoin="round"/><path d="M110.40 103.90v-2.4" stroke="#3cb54a" stroke-width="0.9" fill="none"/><path d="M39.20 37.30L39.70 49.30L40.80 54.60L41.90 59.90L42.40 63.30L43.10 63.00L43.70 68.10L44.40 75.10H46.90V76.40H47.60V83.10H54.50V88.10H58.10V92.90H95.50" stroke="#275f9d" stroke-width="1.45" fill="none" stroke-linejoin="round"/><path d="M67.50 93.20v-2.4M95.50 93.20v-2.4" stroke="#275f9d" stroke-width="0.9" fill="none"/><path d="M39.20 37.30L40.30 37.60L40.80 40.70L41.90 42.90L42.90 45.00L44.50 45.50L45.00 47.10L46.10 48.70L46.60 53.00L47.70 57.80L48.80 59.30L52.00 62.30L55.20 64.90L58.40 68.10L60.30 70.60H64.50V73.30H71.40V76.00H82.30V81.10H117.40" stroke="#d3203f" stroke-width="1.45" fill="none" stroke-linejoin="round"/><path d="M44.50 45.80v-2.4M74.30 76.30v-2.4M76.30 76.30v-2.4M77.60 76.30v-2.4M84.60 81.40v-2.4M87.70 81.40v-2.4M115.80 81.40v-2.4M117.40 81.40v-2.4" stroke="#d3203f" stroke-width="0.9" fill="none"/>
<path d="M97.1 37.40H106.0" stroke="#d3203f" stroke-width="1.3" fill="none"/><path d="M101.55 37.40v-2.2" stroke="#d3203f" stroke-width="0.9" fill="none"/>
<text transform="translate(108.80 40.30) scale(0.9244 1)" font-size="8.0" letter-spacing="-0.3" fill="#1a1a1a" stroke="#1a1a1a" stroke-width="0.1" stroke-linejoin="round">No TP53</text>
<path d="M97.1 47.70H106.0" stroke="#275f9d" stroke-width="1.3" fill="none"/><path d="M101.55 47.70v-2.2" stroke="#275f9d" stroke-width="0.9" fill="none"/>
<text transform="translate(108.80 50.60) scale(0.9163 1)" font-size="8.0" letter-spacing="-0.3" fill="#1a1a1a" stroke="#1a1a1a" stroke-width="0.1" stroke-linejoin="round">TP53 mono</text>
<path d="M97.1 58.00H106.0" stroke="#3cb54a" stroke-width="1.3" fill="none"/><path d="M101.55 58.00v-2.2" stroke="#3cb54a" stroke-width="0.9" fill="none"/>
<text transform="translate(108.80 60.90) scale(0.9305 1)" font-size="8.0" letter-spacing="-0.3" fill="#1a1a1a" stroke="#1a1a1a" stroke-width="0.1" stroke-linejoin="round">TP53 multi-hit</text>
<text transform="translate(99.80 74.80) scale(0.9580 1)" font-size="7.7" letter-spacing="-0.05" fill="#1a1a1a" stroke="#1a1a1a" stroke-width="0.1" stroke-linejoin="round">p=0.003</text>
</g>
<rect x="0.55" y="0.45" width="518.8" height="280.9" fill="none" stroke="#000" stroke-width="1.35"/>
</svg>
</body></html>
